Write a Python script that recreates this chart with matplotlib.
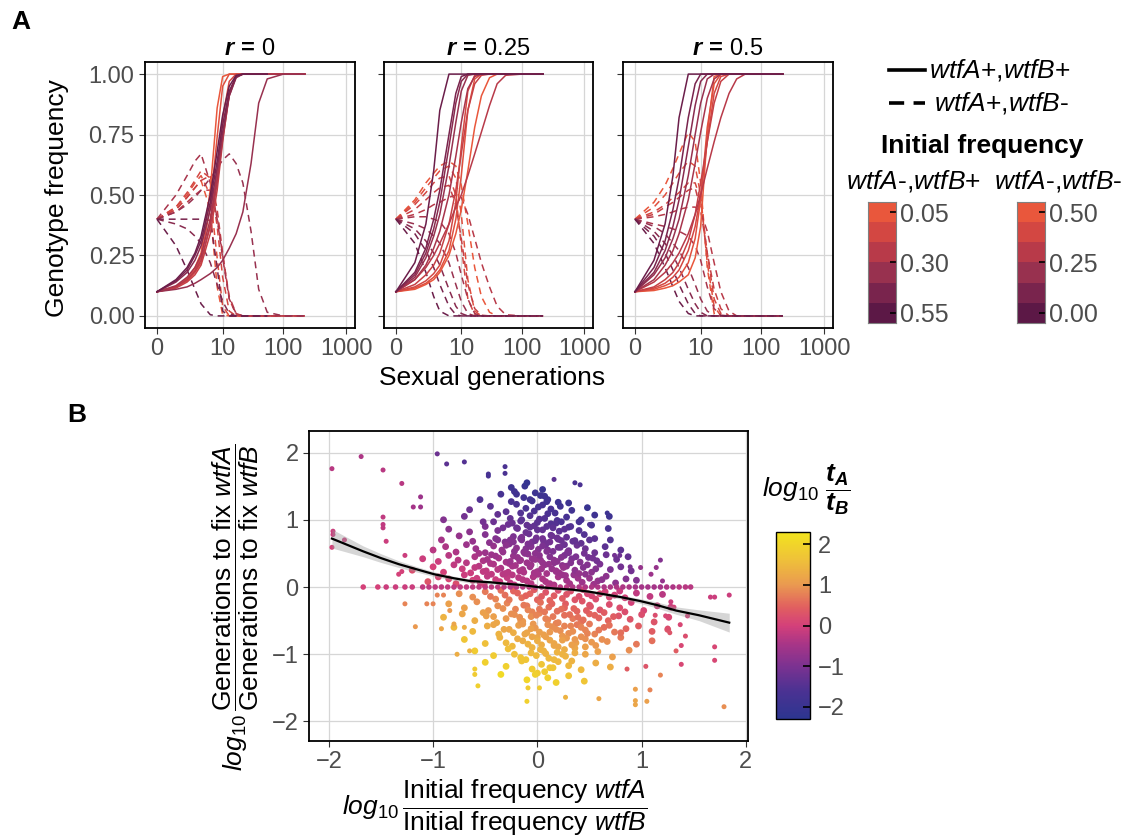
import numpy as np
import matplotlib
matplotlib.use("Agg")
import matplotlib.pyplot as plt
from matplotlib.colors import LinearSegmentedColormap, ListedColormap, Normalize
from matplotlib.lines import Line2D
from matplotlib.ticker import FixedLocator, NullLocator

plt.rcParams['font.family'] = ['Liberation Sans', 'DejaVu Sans']
plt.rcParams['mathtext.fontset'] = 'custom'
plt.rcParams['mathtext.rm'] = 'Liberation Sans'
plt.rcParams['mathtext.it'] = 'Liberation Sans:italic'
plt.rcParams['mathtext.bf'] = 'Liberation Sans:bold'
plt.rcParams['mathtext.bfit'] = 'Liberation Sans:italic:bold'

# ----------------------------------------------------------------------
# Panel A: genotype trajectories (value at each generation of GENS)
# ----------------------------------------------------------------------
GENS = [0, 1, 2, 3, 4, 6, 8, 10, 13, 17, 22, 30, 40, 55, 100, 220]
RUN_FREQ = [0.05, 0.10, 0.15, 0.20, 0.25, 0.30, 0.35, 0.40, 0.45, 0.50]
FACET_LABELS = ["0", "0.25", "0.5"]

SOLID_R0 = [
    [0.10, 0.12, 0.155, 0.20, 0.26, 0.52, 0.86, 0.99, 1, 1, 1, 1, 1, 1, 1, 1],
    [0.10, 0.12, 0.15, 0.19, 0.24, 0.45, 0.74, 0.95, 1, 1, 1, 1, 1, 1, 1, 1],
    [0.10, 0.12, 0.145, 0.18, 0.22, 0.38, 0.60, 0.82, 0.97, 1, 1, 1, 1, 1, 1, 1],
    [0.10, 0.115, 0.14, 0.17, 0.21, 0.34, 0.52, 0.72, 0.92, 0.99, 1, 1, 1, 1, 1, 1],
    [0.10, 0.12, 0.15, 0.185, 0.23, 0.37, 0.55, 0.73, 0.91, 0.99, 1, 1, 1, 1, 1, 1],
    [0.10, 0.125, 0.16, 0.20, 0.25, 0.40, 0.57, 0.74, 0.92, 0.99, 1, 1, 1, 1, 1, 1],
    [0.10, 0.11, 0.12, 0.135, 0.15, 0.175, 0.20, 0.23, 0.28, 0.34, 0.43, 0.63, 0.88, 0.98, 1, 1],
    [0.10, 0.14, 0.18, 0.23, 0.29, 0.44, 0.61, 0.76, 0.91, 0.985, 1, 1, 1, 1, 1, 1],
    [0.10, 0.145, 0.19, 0.25, 0.31, 0.47, 0.64, 0.79, 0.93, 0.99, 1, 1, 1, 1, 1, 1],
    [0.10, 0.15, 0.20, 0.26, 0.33, 0.50, 0.68, 0.83, 0.95, 0.995, 1, 1, 1, 1, 1, 1],
]
DASH_R0 = [
    [0.40, 0.44, 0.49, 0.53, 0.56, 0.44, 0.12, 0.005, 0, 0, 0, 0, 0, 0, 0, 0],
    [0.40, 0.45, 0.50, 0.55, 0.58, 0.50, 0.24, 0.04, 0, 0, 0, 0, 0, 0, 0, 0],
    [0.40, 0.45, 0.51, 0.56, 0.60, 0.57, 0.37, 0.16, 0.02, 0, 0, 0, 0, 0, 0, 0],
    [0.40, 0.44, 0.49, 0.53, 0.56, 0.58, 0.44, 0.26, 0.07, 0.005, 0, 0, 0, 0, 0, 0],
    [0.40, 0.43, 0.47, 0.50, 0.52, 0.52, 0.41, 0.25, 0.08, 0.01, 0, 0, 0, 0, 0, 0],
    [0.40, 0.50, 0.58, 0.64, 0.67, 0.55, 0.40, 0.24, 0.07, 0.01, 0, 0, 0, 0, 0, 0],
    [0.40, 0.43, 0.46, 0.49, 0.52, 0.57, 0.61, 0.645, 0.67, 0.63, 0.55, 0.35, 0.11, 0.015, 0, 0],
    [0.40, 0.38, 0.36, 0.33, 0.30, 0.22, 0.13, 0.06, 0.01, 0, 0, 0, 0, 0, 0, 0],
    [0.40, 0.40, 0.40, 0.40, 0.40, 0.395, 0.20, 0.02, 0, 0, 0, 0, 0, 0, 0, 0],
    [0.40, 0.29, 0.19, 0.11, 0.05, 0.005, 0, 0, 0, 0, 0, 0, 0, 0, 0, 0],
]
END_R0 = [220, 220, 220, 220, 220, 220, 220, 55, 55, 55]

SOLID_R25 = [
    [0.10, 0.11, 0.13, 0.15, 0.18, 0.25, 0.34, 0.44, 0.60, 0.78, 0.91, 0.985, 1, 1, 1, 1],
    [0.10, 0.115, 0.135, 0.16, 0.19, 0.27, 0.40, 0.58, 0.85, 0.98, 1, 1, 1, 1, 1, 1],
    [0.10, 0.12, 0.145, 0.175, 0.21, 0.31, 0.47, 0.70, 0.93, 0.995, 1, 1, 1, 1, 1, 1],
    [0.10, 0.13, 0.17, 0.21, 0.26, 0.38, 0.52, 0.67, 0.85, 0.96, 0.995, 1, 1, 1, 1, 1],
    [0.10, 0.15, 0.20, 0.25, 0.30, 0.38, 0.45, 0.50, 0.58, 0.67, 0.76, 0.87, 0.96, 0.995, 1, 1],
    [0.10, 0.15, 0.21, 0.28, 0.35, 0.50, 0.66, 0.80, 0.94, 0.99, 1, 1, 1, 1, 1, 1],
    [0.10, 0.16, 0.24, 0.33, 0.42, 0.62, 0.80, 0.93, 0.995, 1, 1, 1, 1, 1, 1, 1],
    [0.10, 0.17, 0.26, 0.36, 0.47, 0.70, 0.88, 0.97, 1, 1, 1, 1, 1, 1, 1, 1],
    [0.10, 0.18, 0.28, 0.40, 0.52, 0.75, 0.92, 0.99, 1, 1, 1, 1, 1, 1, 1, 1],
    [0.10, 0.22, 0.38, 0.60, 0.85, 1, 1, 1, 1, 1, 1, 1, 1, 1, 1, 1],
]
DASH_R25 = [
    [0.40, 0.48, 0.55, 0.59, 0.62, 0.64, 0.62, 0.54, 0.38, 0.20, 0.08, 0.015, 0, 0, 0, 0],
    [0.40, 0.47, 0.53, 0.57, 0.60, 0.62, 0.57, 0.42, 0.15, 0.02, 0, 0, 0, 0, 0, 0],
    [0.40, 0.46, 0.51, 0.55, 0.57, 0.58, 0.50, 0.29, 0.07, 0.005, 0, 0, 0, 0, 0, 0],
    [0.40, 0.44, 0.48, 0.51, 0.53, 0.54, 0.46, 0.32, 0.13, 0.03, 0.003, 0, 0, 0, 0, 0],
    [0.40, 0.42, 0.44, 0.46, 0.47, 0.49, 0.50, 0.49, 0.42, 0.32, 0.22, 0.12, 0.04, 0.005, 0, 0],
    [0.40, 0.41, 0.41, 0.40, 0.39, 0.34, 0.26, 0.17, 0.07, 0.01, 0, 0, 0, 0, 0, 0],
    [0.40, 0.38, 0.36, 0.33, 0.30, 0.22, 0.13, 0.06, 0.01, 0, 0, 0, 0, 0, 0, 0],
    [0.40, 0.36, 0.31, 0.26, 0.21, 0.11, 0.04, 0.01, 0, 0, 0, 0, 0, 0, 0, 0],
    [0.40, 0.34, 0.27, 0.20, 0.13, 0.04, 0.005, 0, 0, 0, 0, 0, 0, 0, 0, 0],
    [0.40, 0.30, 0.18, 0.08, 0.02, 0, 0, 0, 0, 0, 0, 0, 0, 0, 0, 0],
]
END_R25 = [220] * 10

SOLID_R5 = [
    [0.10, 0.105, 0.115, 0.125, 0.14, 0.17, 0.24, 0.37, 0.75, 0.99, 1, 1, 1, 1, 1, 1],
    [0.10, 0.11, 0.125, 0.14, 0.16, 0.22, 0.32, 0.48, 0.78, 0.96, 1, 1, 1, 1, 1, 1],
    [0.10, 0.115, 0.135, 0.16, 0.19, 0.27, 0.37, 0.50, 0.72, 0.92, 0.99, 1, 1, 1, 1, 1],
    [0.10, 0.12, 0.15, 0.18, 0.22, 0.31, 0.42, 0.55, 0.72, 0.88, 0.97, 1, 1, 1, 1, 1],
    [0.10, 0.14, 0.18, 0.22, 0.26, 0.34, 0.42, 0.50, 0.61, 0.72, 0.82, 0.92, 0.98, 1, 1, 1],
    [0.10, 0.15, 0.21, 0.27, 0.34, 0.48, 0.63, 0.76, 0.90, 0.98, 1, 1, 1, 1, 1, 1],
    [0.10, 0.17, 0.24, 0.32, 0.40, 0.58, 0.75, 0.88, 0.98, 1, 1, 1, 1, 1, 1, 1],
    [0.10, 0.18, 0.27, 0.37, 0.48, 0.70, 0.87, 0.97, 1, 1, 1, 1, 1, 1, 1, 1],
    [0.10, 0.20, 0.31, 0.44, 0.57, 0.82, 0.96, 1, 1, 1, 1, 1, 1, 1, 1, 1],
    [0.10, 0.23, 0.38, 0.58, 0.82, 1, 1, 1, 1, 1, 1, 1, 1, 1, 1, 1],
]
DASH_R5 = [
    [0.40, 0.47, 0.54, 0.61, 0.67, 0.76, 0.72, 0.55, 0.20, 0.01, 0, 0, 0, 0, 0, 0],
    [0.40, 0.45, 0.50, 0.55, 0.59, 0.64, 0.62, 0.50, 0.22, 0.04, 0, 0, 0, 0, 0, 0],
    [0.40, 0.43, 0.46, 0.49, 0.51, 0.55, 0.55, 0.48, 0.26, 0.07, 0.01, 0, 0, 0, 0, 0],
    [0.40, 0.42, 0.45, 0.47, 0.49, 0.52, 0.53, 0.44, 0.26, 0.11, 0.03, 0, 0, 0, 0, 0],
    [0.40, 0.41, 0.42, 0.43, 0.44, 0.45, 0.45, 0.43, 0.35, 0.22, 0.10, 0.02, 0, 0, 0, 0],
    [0.40, 0.38, 0.37, 0.36, 0.35, 0.33, 0.29, 0.23, 0.12, 0.03, 0.003, 0, 0, 0, 0, 0],
    [0.40, 0.37, 0.34, 0.30, 0.27, 0.20, 0.13, 0.07, 0.02, 0, 0, 0, 0, 0, 0, 0],
    [0.40, 0.35, 0.30, 0.25, 0.20, 0.11, 0.05, 0.015, 0, 0, 0, 0, 0, 0, 0, 0],
    [0.40, 0.33, 0.26, 0.19, 0.13, 0.05, 0.01, 0, 0, 0, 0, 0, 0, 0, 0, 0],
    [0.40, 0.30, 0.20, 0.12, 0.06, 0.01, 0, 0, 0, 0, 0, 0, 0, 0, 0, 0],
]
END_R5 = [220] * 10

FREQ_TICKS_AB = [0.05, 0.30, 0.55]
FREQ_TICKS_ABM = [0.50, 0.25, 0.00]

# ----------------------------------------------------------------------
# Panel B: scatter (x = log10 ratio of initial freq, y = log10 ratio of
# generations to fixation, colour = log10 tA/tB)
# ----------------------------------------------------------------------
OUT_X = [
    -1.97, -1.69, -1.48, -1.30, -0.96, -0.87, -0.70, -0.47, -0.47, -0.31,
    -0.31, 0.16, 0.36, 0.41, -1.96, -1.96, -1.97, -1.85, -1.48, -1.48,
    -1.48, -1.45, -1.19, -1.12, -1.12, -1.27, -1.33, -1.30, 1.84, 1.66,
    1.70, 1.70, 1.70, 1.79, 1.38, 1.38, 1.18, 1.09, 1.14, 0.99,
    1.04, 1.18, 0.94, 0.94, 0.94, 1.05, 0.59, 0.27, -0.10, -0.09,
    0.02, -0.57, -0.60, -0.60, -1.17, -1.27, -1.06, -1.00, -0.77, -0.65,
    1.13, 1.23, 1.25, 1.27, 1.33, 1.28, 1.31, 1.37, 1.42, 1.44,
    1.08, 0.86, 0.74, 0.79, 0.89, 1.20, 0.67, 0.50, -0.96, -0.90,
    -0.84, -0.80, -0.92, -0.70]
OUT_Y = [
    1.76, 1.94, 1.74, 1.54, 1.98, 1.83, 1.86, 1.68, 1.65, 1.79,
    1.69, 1.60, 1.55, 1.52, 0.83, 0.78, 0.59, 0.70, 1.04, 0.93,
    0.88, 0.68, 1.19, 1.34, 1.19, 0.47, 0.19, 0.23, -0.12, -0.15,
    -0.15, -0.89, -1.09, -1.78, -0.87, -1.15, 0.40, 0.19, 0.29, 0.29,
    -1.18, -1.31, -1.52, -1.69, -1.75, -1.70, -1.66, -1.64, -1.70, -1.50,
    -1.50, -1.47, -1.30, -1.22, -0.59, -0.25, -0.25, -0.25, -1.00, -0.95,
    -0.42, -0.43, -0.61, -0.68, -0.95, -0.22, -0.30, -0.56, -0.73, -0.43,
    -1.53, -1.22, 0.47, 0.47, 0.30, 0.09, 1.10, 0.93, -0.12, -0.12,
    -0.35, -0.55, -0.62, -0.60]
OUT_C = [
    -0.3, -0.4, -0.3, -0.3, -1.2, -1.4, -1.5, -1.7, -1.7, -1.6,
    -1.6, -1.4, -1.6, -1.6, -0.1, -0.1, 0.0, -0.1, -0.2, -0.2,
    -0.2, -0.1, -0.5, -0.6, -0.6, -0.1, 0.0, 0.0, -0.1, -0.1,
    -0.1, 0.1, 0.1, 0.9, 0.1, 0.1, -0.9, -0.6, -0.7, -0.7,
    0.3, 0.8, 1.1, 1.2, 1.2, 1.1, 1.2, 1.4, 1.9, 1.8,
    1.8, 1.9, 1.8, 1.8, 1.0, 0.8, 0.8, 0.8, 1.3, 1.4,
    0.2, 0.1, 0.2, 0.3, 0.4, -0.1, 0.0, 0.1, 0.2, 0.0,
    0.8, 0.4, -1.1, -1.2, -1.0, -0.7, -1.9, -1.6, 0.8, 0.8,
    1.0, 1.2, 1.2, 1.3]

# points sitting on y = 0
ROW0_X = [
    -1.67, -1.53, -1.45, -1.36, -1.27, -1.20, -1.10, -1.04, -0.98, -0.92,
    -0.86, -0.80, -0.74, -0.68, -0.62, -0.56, -0.50, -0.44, -0.38, -0.32,
    -0.26, -0.20, -0.14, -0.08, -0.02, 0.04, 0.10, 0.16, 0.22, 0.28,
    0.34, 0.40, 0.46, 0.52, 0.58, 0.64, 0.70, 0.76, 0.82, 0.88,
    0.94, 1.00, 1.06, 1.12, 1.18, 1.24, 1.30, 1.36, 1.42, 1.47]
ROW0_C = [
    0.0, 0.0, -0.1, -0.1, -0.1, -0.1, -0.2, -0.2, -0.2, -0.2,
    -0.2, -0.2, -0.2, -0.2, -0.2, -0.2, -0.2, -0.2, -0.2, -0.2,
    -0.3, -0.3, -0.3, -0.3, -0.3, -0.3, -0.3, -0.3, -0.3, -0.3,
    -0.4, -0.4, -0.4, -0.4, -0.4, -0.4, -0.4, -0.4, -0.4, -0.4,
    -0.5, -0.5, -0.5, -0.5, -0.5, -0.4, -0.4, -0.3, -0.3, -0.3]

# upper cloud (one line per band)
UP_X = [
    -1.05, -0.95, -0.85, -0.78, -0.70, -0.62, -0.55, -0.48, -0.40, -0.33, -0.26, -0.18, -0.10, -0.03, 0.05, 0.12, 0.20, 0.28, 0.35, 0.43, 0.50, 0.58, 0.66, 0.75, 0.85, 0.95,
    -1.20, -1.00, -0.90, -0.80, -0.72, -0.64, -0.56, -0.49, -0.42, -0.35, -0.28, -0.21, -0.14, -0.07, 0.00, 0.07, 0.14, 0.21, 0.28, 0.36, 0.44, 0.52, 0.60, 0.70, 0.80, 0.90,
    -1.10, -0.95, -0.85, -0.76, -0.68, -0.60, -0.52, -0.44, -0.37, -0.30, -0.23, -0.16, -0.09, -0.02, 0.05, 0.12, 0.19, 0.26, 0.33, 0.41, 0.49, 0.57, 0.66, 0.76, 0.87,
    -1.00, -0.88, -0.78, -0.68, -0.59, -0.50, -0.42, -0.34, -0.27, -0.20, -0.13, -0.06, 0.01, 0.08, 0.15, 0.22, 0.30, 0.38, 0.46, 0.55, 0.65, 0.80,
    -0.92, -0.75, -0.62, -0.50, -0.40, -0.31, -0.23, -0.15, -0.08, -0.01, 0.06, 0.13, 0.20, 0.28, 0.36, 0.45, 0.55, 0.70,
    -0.85, -0.65, -0.50, -0.38, -0.28, -0.19, -0.11, -0.03, 0.05, 0.13, 0.21, 0.30, 0.40, 0.52, 0.68,
    -0.90, -0.70, -0.52, -0.38, -0.26, -0.16, -0.07, 0.02, 0.10, 0.19, 0.28, 0.40, 0.55, 0.69,
    -0.65, -0.45, -0.30, -0.20, -0.11, -0.03, 0.05, 0.13, 0.22, 0.33, 0.48,
    -0.55, -0.35, -0.22, -0.13, -0.05, 0.03, 0.10, 0.20, 0.30,
    -0.12, -0.10, 0.05, -0.25,
    -0.24, -0.13, -0.04, 0.09, 0.18, 0.27, -0.27, -0.17, -0.06, 0.03, 0.16, 0.24, -0.22, -0.11, -0.02, 0.10, 0.20, 0.29,
    -0.26, -0.15, -0.05, 0.05, 0.14, 0.23, -0.20, -0.10, 0.00, 0.09, 0.18, 0.26,
    -0.58, -0.51, -0.44, -0.36, -0.29, -0.22, -0.14, -0.06, 0.01, 0.08, 0.16, 0.24, 0.31, 0.39, 0.46, 0.54, 0.62,
    -0.60, -0.52, -0.45, -0.38, -0.31, -0.24, -0.17, -0.10, -0.03, 0.04, 0.11, 0.18, 0.25, 0.32, 0.40, 0.48, 0.56,
    -0.56, -0.48, -0.40, -0.33, -0.26, -0.19, -0.12, -0.05, 0.02, 0.09, 0.16, 0.23, 0.30, 0.37, 0.45, 0.53,
    -0.46, -0.38, -0.30, -0.23, -0.16, -0.09, -0.02, 0.05, 0.12, 0.19, 0.26, 0.34, 0.42, 0.50,
    -0.42, -0.33, -0.24, -0.15, -0.07, 0.00, 0.07, 0.15, 0.23, 0.32, 0.42,
    -0.25, -0.16, -0.07, 0.01, 0.09, 0.17, -0.20, -0.02, 0.07]
UP_Y = [
    0.08, 0.15, 0.12, 0.05, 0.18, 0.10, 0.07, 0.16, 0.11, 0.19, 0.06, 0.14, 0.09, 0.17, 0.12, 0.05, 0.15, 0.10, 0.18, 0.07, 0.13, 0.09, 0.16, 0.06, 0.12, 0.10,
    0.25, 0.30, 0.22, 0.33, 0.27, 0.21, 0.31, 0.24, 0.34, 0.28, 0.22, 0.32, 0.26, 0.30, 0.23, 0.33, 0.27, 0.21, 0.31, 0.25, 0.29, 0.22, 0.34, 0.26, 0.30, 0.24,
    0.42, 0.38, 0.47, 0.40, 0.36, 0.45, 0.39, 0.48, 0.43, 0.37, 0.46, 0.40, 0.49, 0.41, 0.36, 0.45, 0.38, 0.47, 0.42, 0.37, 0.44, 0.39, 0.48, 0.41, 0.45,
    0.55, 0.60, 0.52, 0.63, 0.57, 0.51, 0.61, 0.55, 0.64, 0.58, 0.52, 0.60, 0.56, 0.63, 0.53, 0.59, 0.54, 0.62, 0.57, 0.51, 0.60, 0.55,
    0.70, 0.76, 0.68, 0.78, 0.72, 0.67, 0.75, 0.70, 0.79, 0.73, 0.68, 0.77, 0.71, 0.74, 0.69, 0.78, 0.72, 0.70,
    0.86, 0.82, 0.90, 0.84, 0.93, 0.87, 0.81, 0.91, 0.85, 0.94, 0.83, 0.89, 0.84, 0.92, 0.87,
    1.00, 1.05, 0.97, 1.08, 1.02, 0.98, 1.06, 1.01, 1.09, 0.99, 1.04, 0.97, 1.07, 1.05,
    1.15, 1.20, 1.12, 1.23, 1.17, 1.13, 1.22, 1.16, 1.20, 1.14, 1.18,
    1.30, 1.38, 1.42, 1.33, 1.28, 1.36, 1.30, 1.26, 1.25,
    1.50, 1.55, 1.45, 1.48,
    0.18, 0.22, 0.15, 0.20, 0.24, 0.17, 0.35, 0.39, 0.33, 0.40, 0.36, 0.32, 0.53, 0.57, 0.50, 0.55, 0.59, 0.52,
    0.70, 0.74, 0.67, 0.72, 0.76, 0.69, 0.88, 0.92, 0.85, 0.90, 0.95, 0.86,
    0.13, 0.04, 0.19, 0.08, 0.14, 0.03, 0.11, 0.05, 0.19, 0.08, 0.03, 0.18, 0.05, 0.13, 0.19, 0.04, 0.11,
    0.29, 0.23, 0.35, 0.26, 0.20, 0.31, 0.24, 0.36, 0.21, 0.27, 0.34, 0.23, 0.29, 0.36, 0.20, 0.33, 0.27,
    0.50, 0.41, 0.46, 0.52, 0.38, 0.44, 0.50, 0.42, 0.47, 0.53, 0.40, 0.44, 0.51, 0.45, 0.50, 0.43,
    0.66, 0.70, 0.62, 0.67, 0.72, 0.64, 0.69, 0.61, 0.67, 0.73, 0.63, 0.68, 0.65, 0.70,
    0.97, 0.88, 0.95, 1.00, 0.89, 0.96, 1.02, 0.88, 0.97, 0.90, 1.00,
    1.27, 1.10, 1.30, 1.19, 1.27, 1.10, 1.38, 1.40, 1.35]
UP_C = [
    0.3, 0.1, 0.1, 0.2, -0.1, 0.0, 0.0, -0.2, -0.1, -0.3, -0.2, -0.3, -0.3, -0.4, -0.4, -0.4, -0.5, -0.5, -0.7, -0.6, -0.7, -0.7, -0.8, -0.8, -0.9, -0.9,
    0.2, 0.0, 0.0, -0.2, -0.1, -0.1, -0.3, -0.2, -0.4, -0.4, -0.3, -0.5, -0.5, -0.6, -0.5, -0.7, -0.7, -0.6, -0.8, -0.8, -0.9, -0.8, -1.0, -1.0, -1.1, -1.1,
    -0.1, -0.1, -0.3, -0.3, -0.3, -0.4, -0.4, -0.6, -0.5, -0.5, -0.7, -0.6, -0.8, -0.7, -0.7, -0.9, -0.8, -1.0, -1.0, -0.9, -1.1, -1.1, -1.2, -1.2, -1.3,
    -0.3, -0.4, -0.4, -0.6, -0.6, -0.6, -0.7, -0.7, -0.9, -0.8, -0.8, -0.9, -0.9, -1.1, -1.0, -1.1, -1.1, -1.2, -1.2, -1.2, -1.4, -1.4,
    -0.5, -0.7, -0.7, -0.9, -0.9, -0.9, -1.0, -1.0, -1.2, -1.1, -1.1, -1.3, -1.2, -1.3, -1.3, -1.5, -1.4, -1.5,
    -0.8, -0.8, -1.0, -1.0, -1.2, -1.2, -1.2, -1.3, -1.3, -1.5, -1.4, -1.5, -1.5, -1.7, -1.7,
    -0.9, -1.1, -1.1, -1.3, -1.3, -1.3, -1.5, -1.5, -1.6, -1.6, -1.7, -1.7, -1.9, -1.9,
    -1.2, -1.4, -1.4, -1.6, -1.6, -1.6, -1.7, -1.7, -1.8, -1.8, -2.0,
    -1.5, -1.7, -1.8, -1.8, -1.8, -1.9, -1.9, -1.9, -1.9,
    -2.0, -2.1, -2.0, -1.9,
    -0.3, -0.4, -0.4, -0.5, -0.6, -0.6, -0.5, -0.6, -0.6, -0.7, -0.8, -0.8, -0.8, -0.9, -0.8, -1.0, -1.1, -1.0,
    -0.9, -1.0, -1.0, -1.1, -1.2, -1.2, -1.2, -1.3, -1.3, -1.4, -1.5, -1.4,
    -0.1, 0.0, -0.2, -0.1, -0.2, -0.2, -0.3, -0.3, -0.5, -0.4, -0.4, -0.6, -0.5, -0.6, -0.8, -0.6, -0.8,
    -0.2, -0.2, -0.4, -0.3, -0.3, -0.5, -0.4, -0.6, -0.5, -0.6, -0.7, -0.6, -0.7, -0.9, -0.7, -0.9, -0.9,
    -0.5, -0.5, -0.6, -0.7, -0.6, -0.7, -0.8, -0.7, -0.8, -0.9, -0.8, -0.9, -1.0, -1.0, -1.1, -1.1,
    -0.8, -0.9, -0.8, -0.9, -1.0, -1.0, -1.1, -1.0, -1.1, -1.2, -1.2, -1.3, -1.3, -1.4,
    -1.2, -1.1, -1.2, -1.4, -1.3, -1.4, -1.5, -1.4, -1.6, -1.5, -1.7,
    -1.6, -1.5, -1.8, -1.7, -1.8, -1.7, -1.8, -1.9, -1.9]

# lower cloud (one line per band)
LOW_X = [
    -0.75, -0.62, -0.50, -0.40, -0.31, -0.23, -0.15, -0.07, 0.00, 0.08, 0.16, 0.24, 0.32, 0.40, 0.48, 0.56, 0.65, 0.74, 0.84, 0.95, 1.08, 1.20,
    -0.85, -0.70, -0.58, -0.47, -0.38, -0.29, -0.21, -0.13, -0.05, 0.03, 0.11, 0.19, 0.27, 0.35, 0.43, 0.51, 0.60, 0.69, 0.79, 0.90, 1.02, 1.15, 1.28,
    -0.90, -0.72, -0.60, -0.49, -0.39, -0.30, -0.22, -0.14, -0.06, 0.02, 0.10, 0.18, 0.26, 0.34, 0.42, 0.50, 0.59, 0.68, 0.78, 0.89, 1.00, 1.12, 1.26,
    -0.80, -0.62, -0.48, -0.37, -0.27, -0.18, -0.10, -0.02, 0.06, 0.14, 0.22, 0.30, 0.38, 0.46, 0.55, 0.64, 0.74, 0.85, 0.97, 1.10, 1.25,
    -0.70, -0.50, -0.36, -0.24, -0.14, -0.05, 0.04, 0.12, 0.20, 0.28, 0.37, 0.46, 0.56, 0.67, 0.80, 0.95, 1.10,
    -0.60, -0.42, -0.28, -0.16, -0.06, 0.03, 0.11, 0.19, 0.27, 0.36, 0.46, 0.58, 0.72, 0.88,
    -0.50, -0.30, -0.15, -0.05, 0.04, 0.12, 0.20, 0.30, 0.42, 0.56, 0.70,
    -0.35, -0.10, 0.00, 0.10, 0.18, 0.30, 0.45,
    -0.10, 0.02, 0.14, 0.26, 0.38, 0.50, -0.16, -0.04, 0.08, 0.20, 0.32, 0.44,
    -0.12, 0.00, 0.12, 0.24, 0.36, 0.48, -0.05, 0.06, 0.16, 0.26, 0.36, 0.46,
    -0.45, -0.35, -0.27, -0.19, -0.11, -0.03, 0.04, 0.12, 0.20, 0.28, 0.36, 0.44, 0.52, 0.60, 0.69, 0.79,
    -0.52, -0.42, -0.33, -0.25, -0.17, -0.09, -0.01, 0.07, 0.15, 0.23, 0.31, 0.39, 0.47, 0.55, 0.64, 0.73, 0.84,
    -0.42, -0.32, -0.23, -0.14, -0.06, 0.02, 0.10, 0.18, 0.26, 0.34, 0.42, 0.50, 0.59, 0.69, 0.80,
    -0.30, -0.19, -0.09, 0.00, 0.08, 0.16, 0.24, 0.33, 0.42, 0.52, 0.62,
    -0.22, -0.11, -0.01, 0.08, 0.16, 0.24, 0.33, 0.07, 0.15, -0.02]
LOW_Y = [
    -0.10, -0.15, -0.07, -0.18, -0.12, -0.06, -0.16, -0.10, -0.19, -0.08, -0.13, -0.17, -0.06, -0.14, -0.10, -0.18, -0.07, -0.12, -0.16, -0.09, -0.14, -0.11,
    -0.25, -0.31, -0.22, -0.35, -0.28, -0.24, -0.33, -0.27, -0.37, -0.23, -0.30, -0.36, -0.25, -0.32, -0.21, -0.29, -0.34, -0.26, -0.31, -0.23, -0.35, -0.28, -0.30,
    -0.45, -0.40, -0.50, -0.43, -0.53, -0.47, -0.41, -0.51, -0.44, -0.39, -0.49, -0.54, -0.42, -0.47, -0.52, -0.40, -0.46, -0.50, -0.43, -0.48, -0.41, -0.52, -0.45,
    -0.60, -0.66, -0.58, -0.70, -0.63, -0.57, -0.68, -0.61, -0.71, -0.59, -0.65, -0.69, -0.56, -0.64, -0.70, -0.60, -0.67, -0.62, -0.58, -0.66, -0.63,
    -0.78, -0.84, -0.75, -0.88, -0.80, -0.74, -0.86, -0.79, -0.89, -0.76, -0.83, -0.77, -0.87, -0.81, -0.75, -0.85, -0.80,
    -0.95, -1.02, -0.92, -1.05, -0.98, -0.93, -1.06, -0.97, -1.03, -0.91, -1.00, -0.96, -1.04, -0.94,
    -1.12, -1.18, -1.10, -1.22, -1.15, -1.20, -1.11, -1.17, -1.23, -1.13, -1.19,
    -1.30, -1.38, -1.28, -1.35, -1.42, -1.32, -1.40,
    -0.28, -0.33, -0.25, -0.31, -0.36, -0.27, -0.50, -0.55, -0.47, -0.53, -0.58, -0.49,
    -0.70, -0.75, -0.67, -0.73, -0.78, -0.69, -0.90, -0.95, -0.87, -0.93, -0.98, -0.89,
    -0.14, -0.05, -0.19, -0.09, -0.13, -0.04, -0.14, -0.20, -0.05, -0.11, -0.19, -0.04, -0.13, -0.10, -0.15, -0.06,
    -0.38, -0.44, -0.32, -0.40, -0.45, -0.34, -0.42, -0.37, -0.44, -0.33, -0.41, -0.45, -0.35, -0.42, -0.38, -0.44, -0.37,
    -0.56, -0.63, -0.68, -0.55, -0.62, -0.67, -0.56, -0.63, -0.58, -0.66, -0.60, -0.55, -0.64, -0.57, -0.68,
    -0.83, -0.77, -0.85, -0.80, -0.74, -0.84, -0.79, -0.86, -0.74, -0.82, -0.78,
    -1.00, -1.08, -1.02, -0.99, -1.08, -1.00, -1.10, -1.26, -1.20, -1.30]
LOW_C = [
    0.9, 0.9, 0.7, 0.8, 0.6, 0.5, 0.6, 0.5, 0.5, 0.3, 0.4, 0.4, 0.2, 0.2, 0.1, 0.2, 0.0, 0.0, 0.0, -0.2, -0.2, -0.3,
    1.1, 1.1, 0.9, 1.0, 0.9, 0.8, 0.8, 0.7, 0.8, 0.6, 0.6, 0.6, 0.4, 0.5, 0.3, 0.3, 0.3, 0.2, 0.2, 0.0, 0.1, -0.1, -0.1,
    1.4, 1.2, 1.3, 1.1, 1.2, 1.0, 0.9, 1.0, 0.9, 0.8, 0.8, 0.8, 0.6, 0.7, 0.7, 0.5, 0.5, 0.5, 0.3, 0.3, 0.2, 0.3, 0.1,
    1.5, 1.5, 1.3, 1.4, 1.2, 1.1, 1.2, 1.0, 1.1, 0.9, 0.9, 0.9, 0.7, 0.8, 0.8, 0.6, 0.7, 0.5, 0.4, 0.4, 0.3,
    1.7, 1.6, 1.4, 1.5, 1.3, 1.2, 1.3, 1.2, 1.2, 1.0, 1.1, 0.9, 1.0, 0.9, 0.7, 0.7, 0.6,
    1.8, 1.8, 1.6, 1.7, 1.5, 1.4, 1.5, 1.4, 1.4, 1.2, 1.2, 1.1, 1.1, 0.9,
    1.9, 1.9, 1.7, 1.8, 1.7, 1.7, 1.5, 1.5, 1.5, 1.3, 1.3,
    2.1, 2.0, 1.8, 1.9, 1.9, 1.7, 1.7,
    0.7, 0.7, 0.5, 0.5, 0.5, 0.3, 1.0, 1.0, 0.8, 0.8, 0.8, 0.6,
    1.2, 1.2, 1.0, 1.0, 1.0, 0.8, 1.4, 1.4, 1.2, 1.3, 1.3, 1.1,
    0.7, 0.6, 0.7, 0.5, 0.5, 0.4, 0.4, 0.5, 0.2, 0.3, 0.3, 0.1, 0.1, 0.1, 0.1, -0.1,
    1.1, 1.1, 0.9, 0.9, 0.9, 0.8, 0.8, 0.7, 0.7, 0.6, 0.6, 0.6, 0.4, 0.5, 0.4, 0.4, 0.2,
    1.2, 1.2, 1.3, 1.0, 1.1, 1.1, 0.9, 0.9, 0.8, 0.9, 0.8, 0.7, 0.7, 0.6, 0.6,
    1.5, 1.3, 1.4, 1.3, 1.1, 1.2, 1.1, 1.1, 0.9, 1.0, 0.9,
    1.6, 1.7, 1.5, 1.4, 1.5, 1.4, 1.4, 1.8, 1.7, 1.9]

# loess fit and its confidence band
SMOOTH_X = [-1.97, -1.67, -1.50, -1.33, -1.15, -0.99, -0.80, -0.65, -0.45, -0.31, -0.15,
            0.0, 0.15, 0.34, 0.50, 0.65, 0.80, 0.99, 1.15, 1.33, 1.55, 1.84]
SMOOTH_Y = [0.72, 0.53, 0.43, 0.34, 0.26, 0.19, 0.13, 0.09, 0.07, 0.05, 0.03,
            0.0, -0.02, -0.04, -0.07, -0.11, -0.15, -0.21, -0.27, -0.35, -0.42, -0.53]
SMOOTH_SE = [0.14, 0.08, 0.065, 0.05, 0.04, 0.035, 0.03, 0.03, 0.025, 0.025, 0.02,
             0.02, 0.02, 0.02, 0.022, 0.025, 0.03, 0.035, 0.045, 0.055, 0.08, 0.14]

# ----------------------------------------------------------------------
W, H = 1124, 838
TXT_GREY = '#4d4d4d'
GRID_COL = '#d6d6d6'
TICK_FS = 17
TITLE_FS = 19


def box(left, top, right, bottom):
    return [left / W, 1 - bottom / H, (right - left) / W, (bottom - top) / H]


def fwd(t):
    t = np.asarray(t, dtype=float)
    return np.log10(np.clip(t + 1, 1e-9, None))


def inv(u):
    return 10 ** np.asarray(u, dtype=float) - 1


cmap_a = LinearSegmentedColormap.from_list(
    'initfreq', ['#f35f3a', '#db4b40', '#bb3b48', '#953050', '#71204c', '#4d1242'])
cmap_b = LinearSegmentedColormap.from_list(
    'ratio', [(0.0, '#2c3590'), (0.15, '#4b3292'), (0.28, '#7b3291'),
              (0.40, '#a83587'), (0.50, '#d4407a'), (0.60, '#e1605f'),
              (0.72, '#ea9a50'), (0.86, '#efc338'), (1.0, '#f2e41e')])

fig = plt.figure(figsize=(W / 100, H / 100), dpi=100)

facet_boxes = [(145, 62, 355, 328), (384, 62, 593, 328), (623, 62, 833, 328)]
facet_data = [(SOLID_R0, DASH_R0, END_R0), (SOLID_R25, DASH_R25, END_R25),
              (SOLID_R5, DASH_R5, END_R5)]
gens = np.array(GENS)

for k, (lab, (solid, dashed, ends)) in enumerate(zip(FACET_LABELS, facet_data)):
    ax = fig.add_axes(box(*facet_boxes[k]))
    ax.set_xscale('function', functions=(fwd, inv))
    for v, sv, dv, end in zip(RUN_FREQ, solid, dashed, ends):
        col = cmap_a(v / 0.6)
        keep = gens <= end
        ax.plot(gens[keep], np.array(dv)[keep], color=col, lw=1.1,
                ls=(0, (4.5, 3.2)), zorder=2)
        ax.plot(gens[keep], np.array(sv)[keep], color=col, lw=1.1, zorder=3)
    ax.set_xlim(inv(-0.19), inv(3.14))
    ax.set_ylim(-0.05, 1.05)
    ax.xaxis.set_major_locator(FixedLocator([0, 10, 100, 1000]))
    ax.xaxis.set_minor_locator(NullLocator())
    ax.set_xticklabels(['0', '10', '100', '1000'])
    ax.set_yticks([0, 0.25, 0.5, 0.75, 1.0])
    if k == 0:
        ax.set_yticklabels(['0.00', '0.25', '0.50', '0.75', '1.00'])
    else:
        ax.tick_params(axis='y', labelleft=False, length=0)
    ax.grid(color=GRID_COL, lw=0.9)
    ax.set_axisbelow(True)
    ax.tick_params(labelsize=TICK_FS, labelcolor=TXT_GREY, color='#333333',
                   length=4, width=0.8)
    for sp in ax.spines.values():
        sp.set_linewidth(1.3)
    ax.set_title(r'$\mathbfit{r}\,\mathbf{=}\,$' + lab, fontsize=17, pad=5)

fig.text(57 / W, 1 - 198 / H, 'Genotype frequency', rotation=90,
         ha='center', va='center', fontsize=TITLE_FS)
fig.text(492 / W, 1 - 378 / H, 'Sexual generations', ha='center',
         va='center', fontsize=TITLE_FS)
fig.text(21 / W, 1 - 22 / H, 'A', fontsize=19, fontweight='bold',
         ha='center', va='center')
fig.text(77 / W, 1 - 415 / H, 'B', fontsize=19, fontweight='bold',
         ha='center', va='center')

# line-type legend
fig.add_artist(Line2D([889 / W, 925 / W], [1 - 70 / H, 1 - 70 / H],
                      color='black', lw=2.6, transform=fig.transFigure))
fig.add_artist(Line2D([889 / W, 925 / W], [1 - 103 / H, 1 - 103 / H],
                      color='black', lw=2.6, ls=(0, (4.2, 2.6)),
                      transform=fig.transFigure))
fig.text(929 / W, 1 - 70 / H, r'$\mathit{wtfA}$+,$\mathit{wtfB}$+',
         fontsize=TITLE_FS, va='center', ha='left')
fig.text(934 / W, 1 - 103 / H, r'$\mathit{wtfA}$+,$\mathit{wtfB}$-',
         fontsize=TITLE_FS, va='center', ha='left')
fig.text(982 / W, 1 - 146 / H, 'Initial frequency', fontsize=TITLE_FS,
         fontweight='bold', ha='center', va='center')
fig.text(913 / W, 1 - 181 / H, r'$\mathit{wtfA}$-,$\mathit{wtfB}$+',
         fontsize=TITLE_FS, ha='center', va='center')
fig.text(1058 / W, 1 - 181 / H, r'$\mathit{wtfA}$-,$\mathit{wtfB}$-',
         fontsize=TITLE_FS, ha='center', va='center')

# binned colour legends
edges = np.linspace(0, 0.6, 7)
bin_cols = [cmap_a(c / 0.6) for c in (edges[:-1] + 0.05)]
bar_cmap = ListedColormap(bin_cols)
for left, right, ticks, lo, hi, flip in [
        (868, 896, FREQ_TICKS_AB, 0.0, 0.6, True),
        (1017, 1045, FREQ_TICKS_ABM, -0.05, 0.55, False)]:
    lax = fig.add_axes(box(left, 202, right, 323))
    yy = np.linspace(lo, hi, 7)
    vals = np.arange(6) if flip else np.arange(6)[::-1]
    lax.pcolormesh([0, 1], yy, vals.reshape(-1, 1), cmap=bar_cmap,
                   vmin=-0.5, vmax=5.5, shading='flat')
    if flip:
        lax.set_ylim(hi, lo)
    else:
        lax.set_ylim(lo, hi)
    lax.set_xlim(0, 1)
    lax.set_xticks([])
    lax.yaxis.tick_right()
    lax.set_yticks(ticks)
    lax.set_yticklabels([f'{t:.2f}' for t in ticks])
    lax.tick_params(axis='y', direction='in', length=4, width=1.2,
                    color='black', labelsize=18, labelcolor=TXT_GREY, pad=3)
    for sp in lax.spines.values():
        sp.set_color('#808080')
        sp.set_linewidth(0.8)

# ----------------------------------------------------------------------
# Panel B
# ----------------------------------------------------------------------
axb = fig.add_axes(box(309, 431, 748, 741))
norm_b = Normalize(-2.3, 2.3)
# dense cloud first, then the y = 0 row and the sparse points on top
sc = axb.scatter(UP_X + LOW_X, UP_Y + LOW_Y, c=UP_C + LOW_C, cmap=cmap_b,
                 norm=norm_b, s=24, linewidths=0, zorder=2)
axb.scatter(ROW0_X, [0.0] * len(ROW0_X), c=ROW0_C, cmap=cmap_b, norm=norm_b,
            s=16, linewidths=0, zorder=2)
axb.scatter(OUT_X, OUT_Y, c=OUT_C, cmap=cmap_b, norm=norm_b, s=13,
            linewidths=0, zorder=2)
sx = np.array(SMOOTH_X)
sy = np.array(SMOOTH_Y)
se = np.array(SMOOTH_SE)
axb.fill_between(sx, sy - se, sy + se, color='#999999', alpha=0.4, lw=0,
                 zorder=3)
axb.plot(sx, sy, color='black', lw=1.6, zorder=4)
axb.set_xlim(-2.19, 2.02)
axb.set_ylim(-2.29, 2.32)
axb.set_xticks([-2, -1, 0, 1, 2])
axb.set_yticks([-2, -1, 0, 1, 2])
axb.grid(color=GRID_COL, lw=0.9)
axb.set_axisbelow(True)
axb.tick_params(labelsize=TICK_FS, labelcolor=TXT_GREY, color='#333333',
                length=4, width=0.8)
for sp in axb.spines.values():
    sp.set_linewidth(1.3)

fig.text(495 / W, 1 - 808 / H,
         r'$\mathit{log}_{10}\,\dfrac{\mathrm{Initial\ frequency\ }\mathit{wtfA}}'
         r'{\mathrm{Initial\ frequency\ }\mathit{wtfB}}$',
         fontsize=19, ha='center', va='center')
fig.text(236 / W, 1 - 607 / H,
         r'$\mathit{log}_{10}\,\dfrac{\mathrm{Generations\ to\ fix\ }\mathit{wtfA}}'
         r'{\mathrm{Generations\ to\ fix\ }\mathit{wtfB}}$',
         fontsize=19, ha='center', va='center', rotation=90)

cax = fig.add_axes(box(776, 532, 810, 719))
cb = fig.colorbar(sc, cax=cax)
cb.set_ticks([-2, -1, 0, 1, 2])
cax.tick_params(direction='in', length=5, width=1.2, color='black',
                labelsize=TICK_FS, labelcolor=TXT_GREY, pad=6)
cb.outline.set_edgecolor('black')
cb.outline.set_linewidth(1.0)
fig.text(806 / W, 1 - 490 / H,
         r'$\mathit{log}_{10}\ \dfrac{\mathbfit{t}_{\mathbfit{A}}}{\mathbfit{t}_{\mathbfit{B}}}$',
         fontsize=19, ha='center', va='center')

fig.savefig('out.png', dpi=100)
